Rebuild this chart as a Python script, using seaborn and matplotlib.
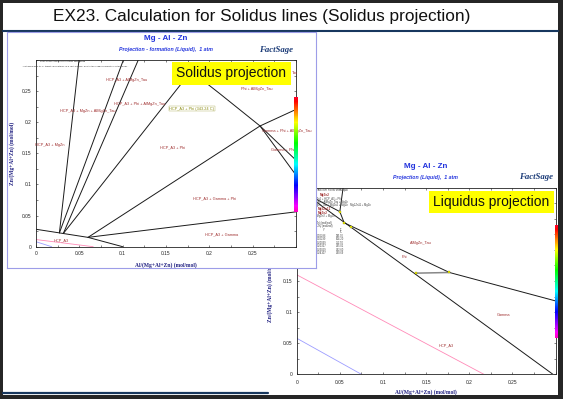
import numpy as np
import pandas as pd
import matplotlib
matplotlib.use("Agg")
import matplotlib.pyplot as plt
import seaborn as sns
from matplotlib.patches import Rectangle
from matplotlib.lines import Line2D
from matplotlib.ticker import FixedLocator, MultipleLocator, FuncFormatter

# ---- solidus projection (left chart): boundary lines, Al and Zn fractions
sol_x = [
    [0.0, 0.027, 0.0315, 0.060, 0.100],
    [0.027, 0.0496],
    [0.027, 0.1008],
    [0.0315, 0.118],
    [0.0315, 0.179, 0.212, 0.2585, 0.300],
    [0.2585, 0.300],
    [0.060, 0.2585, 0.300],
    [0.060, 0.300],
]
sol_y = [
    [0.028, 0.0222, 0.0212, 0.015, 0.0],
    [0.0222, 0.300],
    [0.0222, 0.300],
    [0.0212, 0.300],
    [0.0212, 0.282, 0.246, 0.194, 0.139],
    [0.194, 0.115],
    [0.015, 0.194, 0.2206],
    [0.015, 0.056],
]
sol_pink_x = [0.0, 0.066]
sol_pink_y = [0.0115, 0.0]
sol_blue_x = [0.0, 0.018]
sol_blue_y = [0.008, 0.0]

sol_labels = ["HCP_A3 + AlMgZn_Tau", "HCP_A3 + Phi + AlMgZn_Tau", "HCP_A3 + MgZn + AlMgZn_Tau",
              "HCP_A3 + MgZn", "HCP_A3 + Phi", "Phi + AlMgZn_Tau", "Gamma + Phi + AlMgZn_Tau",
              "Gamma + Phi", "HCP_A3 + Gamma + Phi", "HCP_A3 + Gamma", "HCP_A3"]
sol_lab_x = [0.105, 0.120, 0.060, 0.016, 0.157, 0.255, 0.289, 0.285, 0.2065, 0.214, 0.0296]
sol_lab_y = [0.268, 0.230, 0.218, 0.163, 0.159, 0.254, 0.186, 0.155, 0.0776, 0.020, 0.0107]

# ---- liquidus projection (right chart)
liq_x = [
    [0.0, 0.297],
    [0.0, 0.050, 0.055, 0.177, 0.300],
    [0.0538, 0.050],
]
liq_y = [
    [0.300, 0.0],
    [0.298, 0.2615, 0.2436, 0.1637, 0.118],
    [0.300, 0.2615],
]
tie_x = [0.138, 0.177]
tie_y = [0.1626, 0.1637]
dot_x = [0.050, 0.055, 0.0635, 0.138, 0.177]
dot_y = [0.2615, 0.2436, 0.2365, 0.1626, 0.1637]
liq_pink_x = [0.0, 0.217]
liq_pink_y = [0.160, 0.0]
liq_blue_x = [0.0, 0.075]
liq_blue_y = [0.058, 0.0]

liq_labels = ["AlMgZn_Tau", "Phi", "Gamma", "HCP_A3"]
liq_lab_x = [0.144, 0.125, 0.2396, 0.173]
liq_lab_y = [0.211, 0.188, 0.095, 0.046]

# four phase points table (partly hidden behind the solidus panel)
tab_zn = ["0.16286", "0.16299", "0.20069", "0.20327", "0.23059", "0.24107"]
tab_t = ["395.90", "364.20", "352.50", "345.01", "342.60", "340.69"]

ticks = [0, 0.05, 0.1, 0.15, 0.2, 0.25]

sns.set_theme(style="white")
plt.rcParams["font.family"] = ["Liberation Sans", "DejaVu Sans"]

W, H = 563, 399
fig = plt.figure(figsize=(W / 100, H / 100), dpi=100, facecolor="#262626")


def fr(x0, y0, x1, y1):
    # pixel box (top-left origin) -> figure fraction rect
    return [x0 / W, (H - y1) / H, (x1 - x0) / W, (y1 - y0) / H]


def fx(x):
    return x / W


def fy(y):
    return 1 - y / H


fig.add_artist(Rectangle((fx(3), fy(394.5)), (557.5 - 3) / W, (394.5 - 2.7) / H,
                         transform=fig.transFigure, facecolor="white", edgecolor="none", zorder=-5))
fig.text(fx(261.5), fy(16.5), "EX23. Calculation for Solidus lines (Solidus projection)",
         ha="center", va="center", fontsize=12.4, color="#111111")
fig.add_artist(Line2D([fx(3), fx(557.5)], [fy(30.7), fy(30.7)], transform=fig.transFigure,
                      color="#17375e", lw=1.5))
fig.add_artist(Line2D([fx(3), fx(268)], [fy(392.6), fy(392.6)], transform=fig.transFigure,
                      color="#17375e", lw=1.6))


def make_df(xs, ys):
    rows = []
    for i, (sx, sy) in enumerate(zip(xs, ys)):
        for a, b in zip(sx, sy):
            rows.append({"x": a, "y": b, "seg": i})
    return pd.DataFrame(rows)


def style_axes(ax):
    ax.set_xlim(0, 0.3)
    ax.set_ylim(0, 0.3)
    fmt = FuncFormatter(lambda v, _: f"{v:g}")
    for axis in (ax.xaxis, ax.yaxis):
        axis.set_major_locator(FixedLocator(ticks))
        axis.set_minor_locator(MultipleLocator(0.025))
        axis.set_major_formatter(fmt)
    ax.tick_params(which="both", direction="in", top=True, right=True, bottom=True, left=True,
                   length=1.6, width=0.4, colors="#222222", labelsize=3.5)
    ax.tick_params(axis="x", pad=3)
    ax.tick_params(axis="y", pad=3)
    for s in ax.spines.values():
        s.set_color("#222222")
        s.set_linewidth(0.6)
    ax.set_xlabel("")
    ax.set_ylabel("")
    ax.set_facecolor("white")


def axis_labels(ax, xy_x, xy_y):
    kw = dict(transform=ax.transAxes, ha="center", va="center", fontsize=4,
              family="Liberation Serif", fontweight="bold", color="#1f1f80")
    ax.text(xy_x[0], xy_x[1], "Al/(Mg+Al+Zn) (mol/mol)", **kw)
    ax.text(xy_y[0], xy_y[1], "Zn/(Mg+Al+Zn) (mol/mol)", rotation=90, **kw)


def colorbar_strip(rect, z):
    cax = fig.add_axes(rect, zorder=z)
    cax.imshow(np.linspace(0, 1, 120)[:, None], aspect="auto", cmap="gist_rainbow", origin="upper")
    cax.set_axis_off()


lab_kw = dict(fontsize=2.8, color="#a03030", ha="center", va="center")

# ---------------- right chart: liquidus projection
ax_r = fig.add_axes(fr(296.7, 187.7, 555.5, 374.3), zorder=1)
sns.lineplot(data=make_df([liq_pink_x], [liq_pink_y]), x="x", y="y", units="seg", estimator=None,
             sort=False, color="#ff8ab8", lw=0.6, ax=ax_r, legend=False)
sns.lineplot(data=make_df([liq_blue_x], [liq_blue_y]), x="x", y="y", units="seg", estimator=None,
             sort=False, color="#9c9cff", lw=0.6, ax=ax_r, legend=False)
sns.lineplot(data=make_df(liq_x, liq_y), x="x", y="y", units="seg", estimator=None,
             sort=False, color="#1a1a1a", lw=0.7, ax=ax_r, legend=False)
sns.lineplot(x=tie_x, y=tie_y, color="#888888", lw=1.1, ax=ax_r, legend=False)
sns.scatterplot(x=dot_x, y=dot_y, color="#f0f000", edgecolor="#777700", linewidth=0.2,
                s=2.2, marker="s", ax=ax_r, zorder=5, legend=False)
style_axes(ax_r)
ax_r.tick_params(axis="x", pad=4)
axis_labels(ax_r, (0.5, -0.093), (-0.103, 0.452))
for t, x, y in zip(liq_labels, liq_lab_x, liq_lab_y):
    ax_r.text(x, y, t, **lab_kw)

small = dict(fontsize=1.9, color="#444444", ha="left", va="center")
ax_r.text(0.003, 0.297, "Four Phase Intersection Points with Liquid", **small)
ax_r.text(0.027, 0.288, "MgZn2", fontsize=2.2, color="#a03030", fontweight="bold", va="center")
ax_r.text(0.003, 0.282, "Mg2Zn11 + MgZn2 + HCP_A3 + Phi", **small)
ax_r.text(0.003, 0.277, "MgZn2 + HCP_A3 + AlMgZn_Tau + MgZn", **small)
ax_r.text(0.003, 0.2715, "HCP_A3 + AlMgZn_Tau + MgZn2 + MgZn   Mg2Zn11 + MgZn", **small)
ax_r.text(0.024, 0.266, "Mg2Zn11", fontsize=2.2, color="#a03030", fontweight="bold", va="center")
ax_r.text(0.024, 0.260, "MgZn2", fontsize=2.2, color="#a03030", fontweight="bold", va="center")
ax_r.text(0.003, 0.255, "AlMgZn_Tau + MgZn2 + MgZn", **small)
ax_r.text(0.003, 0.243, "X = Al/(Mg+Al+Zn) (mol/mol)", **small)
ax_r.text(0.003, 0.238, "Y = Zn/(Mg+Al+Zn) (mol/mol)", **small)
ax_r.text(0.030, 0.232, "Y", **small)
ax_r.text(0.050, 0.232, "T", **small)
ax_r.text(0.050, 0.228, "°C", **small)
for i, (zn, tt) in enumerate(zip(tab_zn, tab_t)):
    ax_r.text(0.023, 0.2225 - 0.0055 * i, zn, **small)
    ax_r.text(0.045, 0.2225 - 0.0055 * i, tt, **small)

fig.text(fx(425.7), fy(166.7), "Mg - Al - Zn", ha="center", va="center", fontsize=5.8,
         fontweight="bold", color="#2233dd")
fig.text(fx(425.5), fy(177.3), "Projection (Liquid),  1 atm", ha="center", va="center",
         fontsize=3.8, fontweight="bold", style="italic", color="#2233dd")
fig.text(fx(536.5), fy(177), "FactSage", ha="center", va="center", fontsize=6.3,
         family="Liberation Serif", fontweight="bold", style="italic", color="#1c3c78")
colorbar_strip(fr(555, 225, 557.5, 338), 2)
fig.text(fx(491.3), fy(202), "Liquidus projection", ha="center", va="center", fontsize=10,
         color="#111111", zorder=6,
         bbox=dict(boxstyle="square,pad=0.3", facecolor="#ffff00", edgecolor="none"))

# ---------------- left panel: solidus projection
ax_p = fig.add_axes(fr(7, 32, 316, 268), zorder=3)
ax_p.set_facecolor("white")
ax_p.set_xticks([])
ax_p.set_yticks([])
for s in ax_p.spines.values():
    s.set_color("#9d9de8")
    s.set_linewidth(0.8)

ax_l = fig.add_axes(fr(36, 60, 296, 246.7), zorder=4)
sns.lineplot(data=make_df([sol_pink_x], [sol_pink_y]), x="x", y="y", units="seg", estimator=None,
             sort=False, color="#ff8ab8", lw=0.6, ax=ax_l, legend=False)
sns.lineplot(data=make_df([sol_blue_x], [sol_blue_y]), x="x", y="y", units="seg", estimator=None,
             sort=False, color="#9c9cff", lw=0.6, ax=ax_l, legend=False)
sns.lineplot(data=make_df(sol_x, sol_y), x="x", y="y", units="seg", estimator=None,
             sort=False, color="#1a1a1a", lw=0.7, ax=ax_l, legend=False)
style_axes(ax_l)
axis_labels(ax_l, (0.5, -0.098), (-0.092, 0.5))
for t, x, y in zip(sol_labels, sol_lab_x, sol_lab_y):
    ax_l.text(x, y, t, **lab_kw)
# only the tail of this label shows past the yellow box
ax_l.text(0.2955, 0.279, "Tau", fontsize=2.8, color="#a03030",
          ha="left", va="center", clip_on=False)
ax_l.text(0.180, 0.222, "HCP_A3 + Phi (343.24 C)", fontsize=2.8, color="#8a8a10",
          ha="center", va="center",
          bbox=dict(boxstyle="square,pad=0.15", facecolor="none", edgecolor="#b0b060", lw=0.3))
ax_l.text(0.005, 0.297, "Four Phase Intersection Points with Liquid", fontsize=1.7,
          color="#333333", ha="left", va="center")
ax_l.text(-0.016, 0.289, "- not applicable to 'P' target calculations (e.g. first melting) "
          "and to the solidus projection of the liquid -", fontsize=1.7, color="#333333",
          ha="left", va="center", clip_on=False)

fig.text(fx(165.7), fy(39), "Mg - Al - Zn", ha="center", va="center", fontsize=5.8,
         fontweight="bold", color="#2233dd", zorder=6)
fig.text(fx(166), fy(50), "Projection - formation (Liquid),  1 atm", ha="center", va="center",
         fontsize=3.8, fontweight="bold", style="italic", color="#2233dd", zorder=6)
fig.text(fx(276), fy(50), "FactSage", ha="center", va="center", fontsize=6.3,
         family="Liberation Serif", fontweight="bold", style="italic", color="#1c3c78", zorder=6)
colorbar_strip(fr(294, 96.7, 297.5, 211.7), 5)
fig.text(fx(231.5), fy(73.5), "Solidus projection", ha="center", va="center", fontsize=10,
         color="#111111", zorder=6,
         bbox=dict(boxstyle="square,pad=0.3", facecolor="#ffff00", edgecolor="none"))

fig.savefig("out.png", dpi=100, facecolor=fig.get_facecolor())
